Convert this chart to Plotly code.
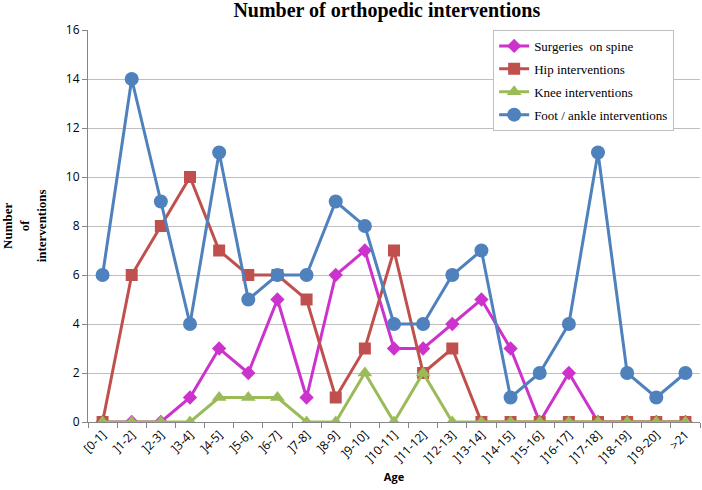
import plotly.graph_objects as go

categories = ["[0-1]", "]1-2]", "]2-3]", "]3-4]", "]4-5]", "]5-6]", "]6-7]", "]7-8]", "]8-9]",
              "]9-10]", "]10-11]", "]11-12]", "]12-13]", "]13-14]", "]14-15]", "]15-16]",
              "]16-17]", "]17-18]", "]18-19]", "]19-20]", ">21"]
spine = [0, 0, 0, 1, 3, 2, 5, 1, 6, 7, 3, 3, 4, 5, 3, 0, 2, 0, 0, 0, 0]
hip = [0, 6, 8, 10, 7, 6, 6, 5, 1, 3, 7, 2, 3, 0, 0, 0, 0, 0, 0, 0, 0]
knee = [0, 0, 0, 0, 1, 1, 1, 0, 0, 2, 0, 2, 0, 0, 0, 0, 0, 0, 0, 0, 0]
foot = [6, 14, 9, 4, 11, 5, 6, 6, 9, 8, 4, 4, 6, 7, 1, 2, 4, 11, 2, 1, 2]
y_ticks = [0, 2, 4, 6, 8, 10, 12, 14, 16]

series = [
    ("Surgeries  on spine", spine, "#CC33CC", "diamond", 11),
    ("Hip interventions", hip, "#C0504D", "square", 12),
    ("Knee interventions", knee, "#9BBB59", "triangle-up", 13),
    ("Foot / ankle interventions", foot, "#4F81BD", "circle", 14),
]

fig = go.Figure()
for name, vals, color, sym, size in series:
    fig.add_trace(go.Scatter(
        x=categories, y=vals, name=name, mode="lines+markers", legendgroup=name,
        line=dict(color=color, width=3),
        marker=dict(symbol=sym, size=size, color=color),
    ))

fig.update_layout(
    width=702, height=490,
    margin=dict(l=88, r=2, t=30, b=68, autoexpand=False),
    paper_bgcolor="white", plot_bgcolor="white",
    title=dict(text="<b>Number of orthopedic interventions</b>", x=0.551, xanchor="center",
               y=0.98, yanchor="middle",
               font=dict(family="Liberation Serif", size=20, color="black")),
    font=dict(family="Open Sans", size=11, color="black"),
    showlegend=True,
    legend=dict(x=0.662, y=1.0, xanchor="left", yanchor="top",
                bgcolor="white", bordercolor="#BFBFBF", borderwidth=1,
                font=dict(family="Liberation Serif", size=13, color="black"),
                tracegroupgap=3, itemwidth=30),
    xaxis=dict(
        type="category", tickangle=-45, showgrid=False, automargin=False,
        showline=True, linecolor="#868686", linewidth=1,
        ticks="outside", tickson="boundaries", ticklen=5, tickcolor="#868686",
        tickfont=dict(family="Open Sans", size=12),
        title=dict(text="<b>Age</b>", font=dict(family="Open Sans", size=11), standoff=8),
        range=[-0.5, len(categories) - 0.5],
    ),
    yaxis=dict(
        range=[0, 16], tickvals=y_ticks, showgrid=True, gridcolor="#BFBFBF", gridwidth=1,
        showline=True, linecolor="#868686", linewidth=1, automargin=False,
        ticks="outside", ticklen=5, tickcolor="#868686",
        tickfont=dict(family="Open Sans", size=12), zeroline=False,
    ),
    annotations=[dict(
        text="<b>Number<br>of<br>interventions</b>", xref="paper", yref="paper",
        x=-0.104, y=0.5, xanchor="center", yanchor="middle", showarrow=False,
        textangle=-90,
        font=dict(family="Liberation Serif", size=13, color="black"),
    )],
)

fig.write_html("out.html", config={"displayModeBar": False},
               post_script="document.body.style.margin='0px';")
